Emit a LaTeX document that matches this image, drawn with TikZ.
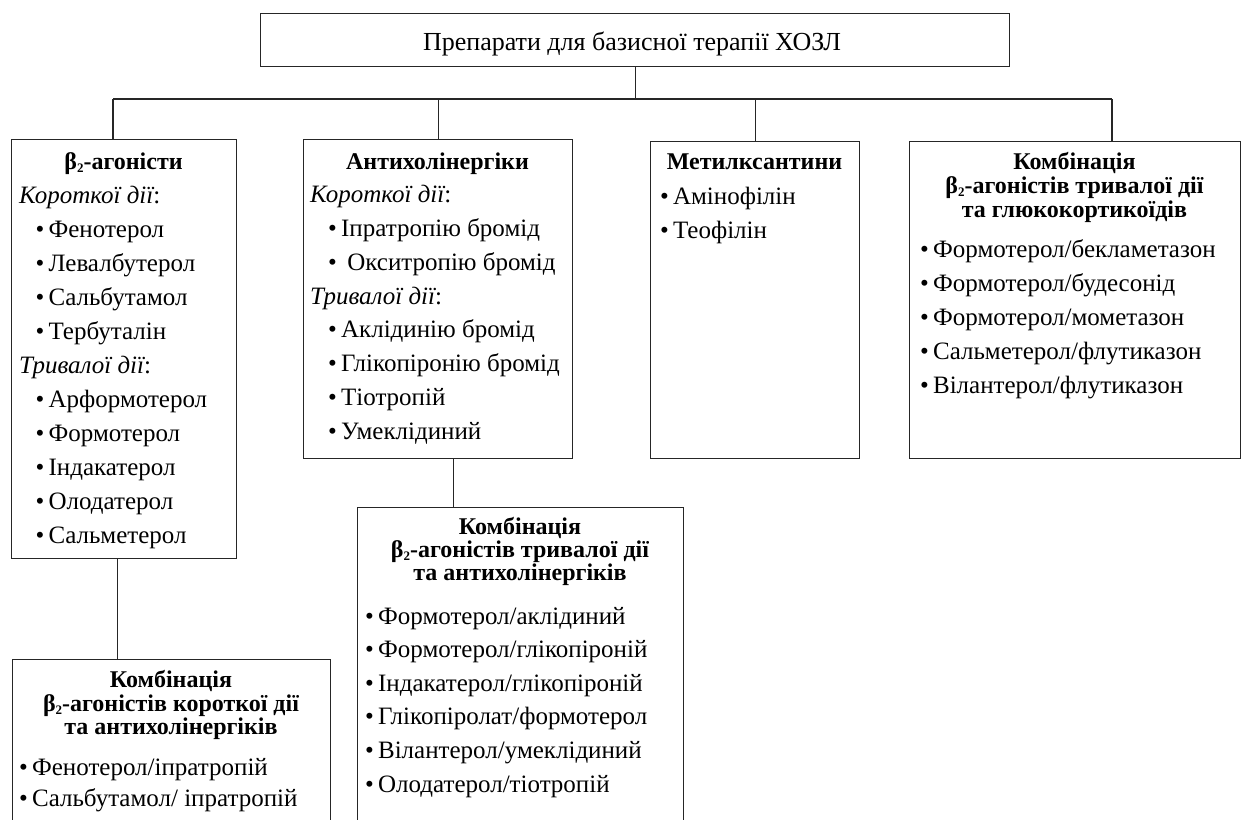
\documentclass[tikz,border=0pt]{standalone}
\usepackage{fontspec}
\setmainfont{Liberation Serif}
\newcommand{\bsub}{β\raisebox{-3.5pt}{\fontsize{13}{13}\selectfont 2}}
\begin{document}
\begin{tikzpicture}[x=1pt,y=-1pt,
  box/.style={draw=black!85, line width=1.1pt, rectangle, inner sep=0pt, anchor=north west},
  conn/.style={draw=black!85, line width=1.1pt},
  body/.style={inner sep=0pt, anchor=base west, font=\fontsize{25}{28}\selectfont},
  item/.style={body},
  sub/.style={body, font=\fontsize{25}{28}\selectfont\itshape},
  ttl/.style={inner sep=0pt, anchor=base, font=\fontsize{24}{28}\selectfont\bfseries},
  head/.style={inner sep=0pt, anchor=base, font=\fontsize{26}{28}\selectfont}]
\clip (0,0) rectangle (1247,819);
% boxes
\node[box, minimum width=749pt, minimum height=53pt] (top) at (260,13) {};
\node[box, minimum width=225pt, minimum height=419pt] (b) at (11,139) {};
\node[box, minimum width=269pt, minimum height=319pt] (a) at (303,139) {};
\node[box, minimum width=209pt, minimum height=317pt] (m) at (650,141) {};
\node[box, minimum width=331pt, minimum height=317pt] (g) at (909,141) {};
\node[box, minimum width=326pt, minimum height=340pt] (c) at (357,507) {};
\node[box, minimum width=318pt, minimum height=200pt] (s) at (12,659) {};
% connectors
\coordinate (busL) at (113,99);
\coordinate (busR) at (1112,99);
\draw[conn] (top.south) -- (top.south |- busL);
\draw[conn] (busL) -- (busR);
\draw[conn] (busL) -- (busL |- b.north);
\draw[conn] (a.north) -- (a.north |- busL);
\draw[conn] (m.north) -- (m.north |- busL);
\draw[conn] (busR) -- (busR |- g.north);
\draw[conn] ([xshift=-6.5pt]b.south) -- ([xshift=-6.5pt]b.south |- s.north);
\draw[conn] ([xshift=15.5pt]a.south) -- ([xshift=15.5pt]a.south |- c.north);
% top text
\node[head] (topt) at (632,50) {Препарати для базисної терапії ХОЗЛ};
% beta2 agonists
\node[ttl] (bt) at (123.5,169) {\bsub-агоністи};
\node[sub] (bs1) at (19,203) {Короткої дії\upshape:};
\foreach \t [count=\i] in {Фенотерол, Левалбутерол, Сальбутамол, Тербуталін}
  \node[item] (bi\i) at (35.5,{203+34*\i}) {•\,\t};
\node[sub] (bs2) at (19,373) {Тривалої дії\upshape:};
\foreach \t [count=\i] in {Арформотерол, Формотерол, Індакатерол, Олодатерол, Сальметерол}
  \node[item] (bj\i) at (35.5,{373+34*\i}) {•\,\t};
% anticholinergics
\node[ttl] (at) at (437.5,169) {Антихолінергіки};
\node[sub] (as1) at (310,202.75) {Короткої дії\upshape:};
\node[item] (ai1) at (328,236.5) {•\,Іпратропію бромід};
\node[item] (ai2) at (328,270.25) {•\,\ Окситропію бромід};
\node[sub] (as2) at (310,304) {Тривалої дії\upshape:};
\foreach \t [count=\i] in {Аклідинію бромід, Глікопіронію бромід, Тіотропій, Умеклідиний}
  \node[item] (aj\i) at (328,{304+33.75*\i}) {•\,\t};
% methylxanthines
\node[ttl] (mt) at (754.5,169) {Метилксантини};
\node[item] (mi1) at (660,204) {•\,Амінофілін};
\node[item] (mi2) at (660,238) {•\,Теофілін};
% LABA + ICS
\node[ttl] (gt1) at (1074.5,169) {Комбінація};
\node[ttl] (gt2) at (1074.5,193) {\bsub-агоністів тривалої дії};
\node[ttl] (gt3) at (1074.5,217) {та глюкокортикоїдів};
\foreach \t [count=\i] in {Формотерол/бекламетазон, Формотерол/будесонід, Формотерол/мометазон, Сальметерол/флутиказон, Вілантерол/флутиказон}
  \node[item] (gi\i) at (920,{223+34*\i}) {•\,\t};
% LABA + LAMA
\node[ttl] (ct1) at (520,534) {Комбінація};
\node[ttl] (ct2) at (520,557) {\bsub-агоністів тривалої дії};
\node[ttl] (ct3) at (520,580) {та антихолінергіків};
\foreach \t [count=\i] in {Формотерол/аклідиний, Формотерол/глікопіроній, Індакатерол/глікопіроній, Глікопіролат/формотерол, Вілантерол/умеклідиний, Олодатерол/тіотропій}
  \node[item] (ci\i) at (365,{590.4+33.6*\i}) {•\,\t};
% SABA + SAMA
\node[ttl] (st1) at (171,687) {Комбінація};
\node[ttl] (st2) at (171,711) {\bsub-агоністів короткої дії};
\node[ttl] (st3) at (171,734) {та антихолінергіків};
\node[item] (si1) at (19,775) {•\,Фенотерол/іпратропій};
\node[item] (si2) at (19,806) {•\,Сальбутамол/ іпратропій};
\end{tikzpicture}
\end{document}
